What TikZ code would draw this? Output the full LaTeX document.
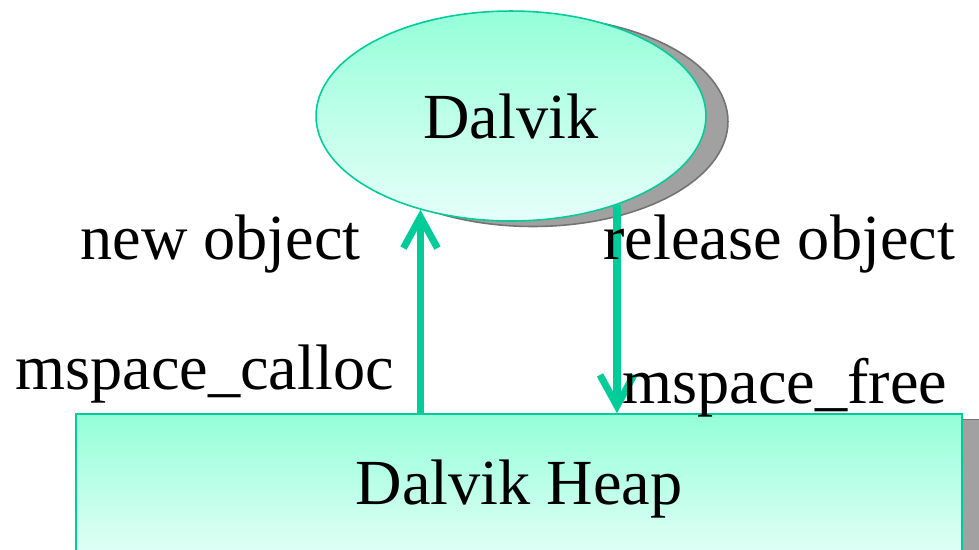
\documentclass[tikz,border=0pt]{standalone}
\usepackage{fontspec}
\setmainfont{Liberation Serif}
\usetikzlibrary{arrows.meta,shadows,shapes.geometric}

\definecolor{seagreen}{HTML}{00CC99}
\definecolor{minttop}{HTML}{94FFD9}
\definecolor{mintbottom}{HTML}{E6FFF8}

\tikzset{
  big/.style={font=\fontsize{36.6}{40}\selectfont},
  mintfill/.style={draw=seagreen, line width=0.9pt, top color=minttop, bottom color=mintbottom},
  grayshadow/.style={drop shadow={shadow xshift=#1, shadow yshift=-0.11cm,
      fill=black!37, draw=black!55, opacity=1}},
  flow/.style={draw=seagreen, line width=4pt,
      -{Straight Barb[length=0.62cm, width=0.68cm, line width=4pt]}},
  label/.style={big, anchor=base west, inner sep=0pt}
}

\begin{document}
\begin{tikzpicture}[x=0.02cm, y=-0.02cm]
  \clip (0,0) rectangle (979,549);

  % the VM and its heap
  \node[big, mintfill, grayshadow=0.44cm, ellipse, inner sep=0pt,
        minimum width=7.8cm, minimum height=4.2cm] (dalvik) at (511,116) {Dalvik};
  \node[big, mintfill, grayshadow=0.4cm, rectangle, inner sep=0pt,
        minimum width=17.72cm, minimum height=3.0cm] (heap) at (519,489) {Dalvik Heap};

  % allocate / free
  \draw[flow] (heap.north -| dalvik.226) -- (dalvik.226);
  \draw[flow] (dalvik.-40) -- (heap.north -| dalvik.-40);

  % labels
  \node[label] (newobj) at (80,259) {new object};
  \node[label] (relobj) at (603,259) {release object};
  \node[label] (calloc) at (15,389) {mspace\_calloc};
  \node[label] (free) at (622,403) {mspace\_free};
\end{tikzpicture}
\end{document}
